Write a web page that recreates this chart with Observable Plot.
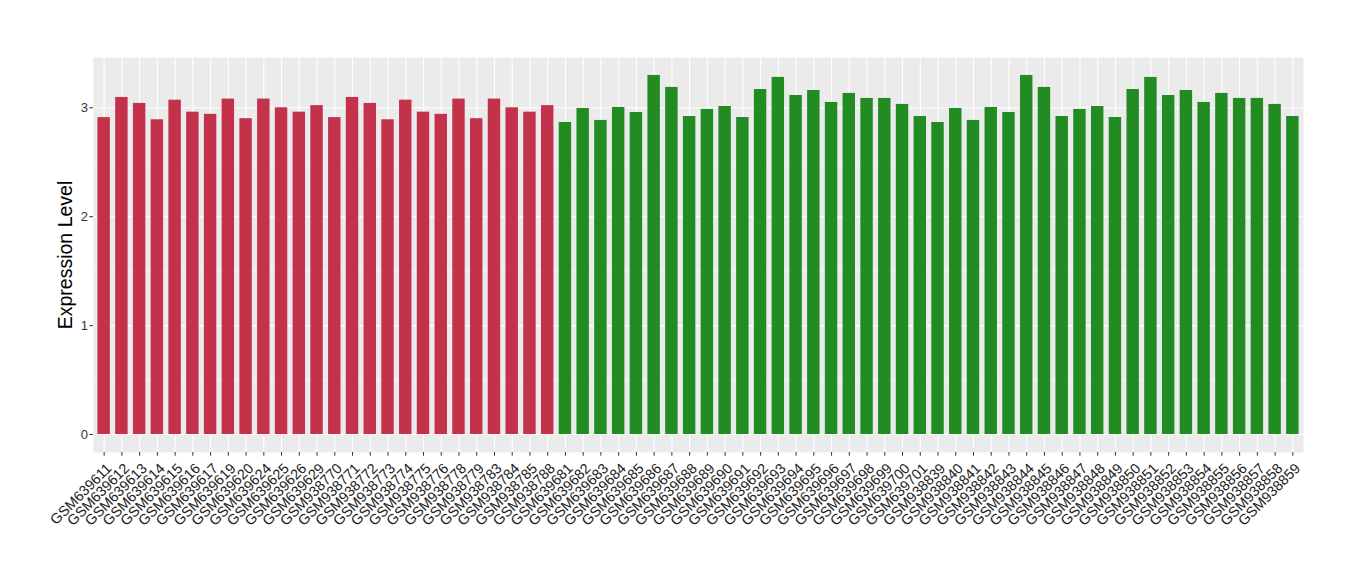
<!DOCTYPE html>
<html><head><meta charset="utf-8">
<script src="https://cdn.jsdelivr.net/npm/d3@7"></script>
<script src="https://cdn.jsdelivr.net/npm/@observablehq/plot@0.6"></script>
<style>body{margin:0;background:#fff}#chart{width:1360px;height:580px}</style>
</head><body><div id="chart"></div>
<script>
const samples = [
  "GSM639611","GSM639612","GSM639613","GSM639614","GSM639615","GSM639616","GSM639617","GSM639619","GSM639620","GSM639624","GSM639625","GSM639626","GSM639629",
  "GSM938770","GSM938771","GSM938772","GSM938773","GSM938774","GSM938775","GSM938776","GSM938778","GSM938779","GSM938783","GSM938784","GSM938785","GSM938788",
  "GSM639681","GSM639682","GSM639683","GSM639684","GSM639685","GSM639686","GSM639687","GSM639688","GSM639689","GSM639690","GSM639691","GSM639692","GSM639693","GSM639694","GSM639695","GSM639696","GSM639697","GSM639698","GSM639699","GSM639700","GSM639701",
  "GSM938839","GSM938840","GSM938841","GSM938842","GSM938843","GSM938844","GSM938845","GSM938846","GSM938847","GSM938848","GSM938849","GSM938850","GSM938851","GSM938852","GSM938853","GSM938854","GSM938855","GSM938856","GSM938857","GSM938858","GSM938859"
];
const values = [
  2.91,3.095,3.04,2.89,3.07,2.96,2.94,3.08,2.90,3.08,3.00,2.96,3.02,
  2.91,3.095,3.04,2.89,3.07,2.96,2.94,3.08,2.90,3.08,3.00,2.96,3.02,
  2.865,2.994,2.884,3.003,2.957,3.297,3.187,2.92,2.985,3.012,2.911,3.168,3.279,3.113,3.159,3.049,3.132,3.086,3.086,3.031,2.92,
  2.865,2.994,2.884,3.003,2.957,3.297,3.187,2.92,2.985,3.012,2.911,3.168,3.279,3.113,3.159,3.049,3.132,3.086,3.086,3.031,2.92
];
const groups = [
  "A","A","A","A","A","A","A","A","A","A","A","A","A",
  "A","A","A","A","A","A","A","A","A","A","A","A","A",
  "B","B","B","B","B","B","B","B","B","B","B","B","B","B","B","B","B","B","B","B","B",
  "B","B","B","B","B","B","B","B","B","B","B","B","B","B","B","B","B","B","B","B","B"
];
const groupNames = ["A","B"];
const groupColors = ["#C3314A","#228B22"];
const yMajor = [0,1,2,3];
const yMinor = [0.5,1.5,2.5];
const yTitle = "Expression Level";

const data = samples.map((s,i)=>({sample:s, value:values[i], group:groups[i]}));
const maxV = d3.max(values);
const pad = maxV*0.05;
const font = "'Liberation Sans', Arial, sans-serif";

const chart = Plot.plot({
  width: 1360, height: 580,
  marginLeft: 93, marginRight: 57, marginTop: 57, marginBottom: 128,
  style: {fontFamily: font, background: "#fff"},
  x: {domain: samples, paddingInner: 0.3, paddingOuter: 0.25, align: 0.5, label: null},
  y: {domain: [0 - pad, maxV + pad], label: null},
  color: {domain: groupNames, range: groupColors},
  marks: [
    Plot.frame({fill: "#EBEBEB", stroke: "none"}),
    Plot.gridY(yMinor, {stroke: "#fff", strokeOpacity: 1, strokeWidth: 0.55}),
    Plot.gridY(yMajor, {stroke: "#fff", strokeOpacity: 1, strokeWidth: 1.1}),
    Plot.gridX(samples, {stroke: "#fff", strokeOpacity: 1, strokeWidth: 1.1}),
    Plot.barY(data, {x: "sample", y: "value", fill: "group"}),
    Plot.axisY(yMajor, {tickSize: 3.7, stroke: "#333", tickFormat: () => "", label: null}),
    Plot.text(yMajor, {y: d => d, frameAnchor: "left", dx: -5.5, textAnchor: "end", text: d => String(d), fontSize: 13, fill: "#333"}),
    Plot.axisX(samples, {tickSize: 3.7, stroke: "#333", tickFormat: () => "", label: null}),
    Plot.text(samples, {x: d => d, text: d => d, frameAnchor: "bottom", rotate: -45, textAnchor: "end", lineAnchor: "top", dx: 1, dy: 9.5, fontSize: 14.4, fill: "#222"}),
    Plot.text([yTitle], {frameAnchor: "left", dx: -28, rotate: -90, textAnchor: "middle", fontSize: 19.5, fill: "#000", text: d => d})
  ]
});
document.getElementById("chart").appendChild(chart);
</script>
</body></html>
